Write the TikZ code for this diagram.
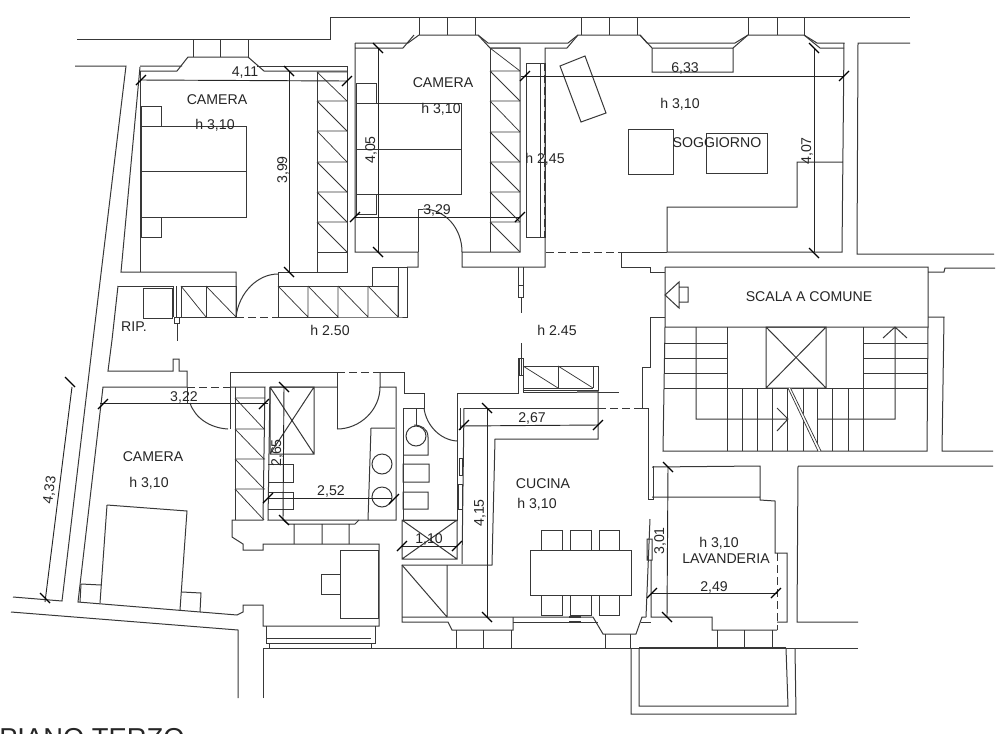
\documentclass[tikz,border=0pt]{standalone}
\usepackage{fontspec}
\setmainfont{Liberation Sans}
\definecolor{ink}{gray}{0.22}
\tikzset{
  wall/.style={draw=ink,line width=0.75pt,line cap=butt,line join=miter},
  fine/.style={draw=ink,line width=0.55pt},
  dimline/.style={draw=black!85,line width=0.7pt},
  tick/.style={draw=black,line width=0.85pt},
  dashwall/.style={draw=ink,line width=0.75pt,dash pattern=on 6pt off 3pt},
  lab/.style={inner sep=0pt,text=black!85,font=\fontsize{10.6}{13}\selectfont},
}
\newcommand{\tkA}[2]{\draw[tick] (#1-5,#2+5) -- (#1+5,#2-5);}
\newcommand{\tkB}[2]{\draw[tick] (#1-5,#2-5) -- (#1+5,#2+5);}
\begin{document}
\begin{tikzpicture}[x=0.75pt,y=-0.75pt]
\useasboundingbox (0,0) rectangle (1000,733);
\fill[white] (0,0) rectangle (1000,733);
% --- outer top wall and windows
\draw[wall] (77,39) -- (330,39) -- (330,17) -- (910,17);
\draw[wall] (75,66) -- (126,66) -- (93,340) -- (62,601) -- (13,597);
\draw[wall] (11,612) -- (238,630) -- (238,698);
\draw[wall] (263,698) -- (263,648) -- (858,648);
\foreach \a/\b/\c in {419/447/475,581/609/637,748/777/804}{
  \draw[wall] (\a,17) -- (\a,35) (\b,17) -- (\b,35) (\c,17) -- (\c,35);}
\draw[wall] (193,39) -- (193,57) (220,39) -- (220,57) (248,39) -- (248,57);
% --- camera 1
\draw[wall] (140,66) -- (182,66) (140,71) -- (177,71) -- (188,57) -- (248,57) -- (264,71) -- (347,71);
\draw[wall] (257,66) -- (347,66) -- (347,272) -- (278,272);
\draw[wall] (140,67) -- (121,272) -- (236,272) -- (236,317);
\draw[wall] (140.7,71) -- (140.7,272);
\draw[wall] (317,72) -- (317,272);
\foreach \y/\z in {72/101,101/131,131/162,162/192,192/222,222/252}{
  \draw[fine] (317,\y) -- (347,\y) (317,\y) -- (347,\z);}
\draw[fine] (317,252) -- (347,252);
\draw[wall] (141,126) rectangle (246,217) (141,171) -- (246,171);
\draw[wall] (141,106) rectangle (161,126) (141,217) rectangle (161,237);
% door camera 1
\draw[wall] (236,317) .. controls (239,292) and (258,274) .. (278,274);
\draw[wall] (278,272) -- (278,317);
\draw[dashwall] (236,317) -- (278,317);
\draw[wall] (278,286) -- (398,286) (278,317) -- (398,317) -- (407,317) -- (407,267) -- (398,267) -- (398,317);
\draw[wall] (372,286) -- (372,267) -- (398,267);
\foreach \a/\b in {278/308,308/338,338/368,368/398}{\draw[fine] (\b,286) -- (\b,317) (\a,286) -- (\b,317);}
% rip
\draw[wall] (181,286) rectangle (236,317) (206,286) -- (206,317);
\draw[fine] (181,286) -- (206,317) (206,286) -- (236,317);
\draw[wall] (118,286) -- (173,286) -- (173,317) (176,286) -- (176,317) -- (181,317);
\draw[wall] (118,286) -- (112,340) -- (108,371) -- (173,371) -- (173,359) -- (179,359) -- (179,371) -- (187,371) -- (187,387);
\draw[wall] (143,288) rectangle (172,318);
\draw[wall] (174,317) rectangle (179,323);
\draw[wall] (177,323) -- (177,341);
% --- camera 2
\draw[wall] (355,43) -- (408,43) -- (419,35) -- (478,35) -- (488,43) -- (568,43) -- (578,35) -- (640,35) -- (647,43) -- (735,43) -- (748,35) -- (804,35) -- (817,43) -- (844,43) -- (842,252) -- (667,252) -- (667,207) -- (797,207) -- (797,162) -- (842,162);
\draw[wall] (355,48) -- (403,48) -- (414,35) (355,43) -- (355,252) -- (418,252) -- (418,267) -- (407,267);
\draw[wall] (478,35) -- (490,48) -- (520,48) -- (520,252) -- (462,252) -- (462,267) -- (545,267) -- (545,48) -- (567,48) -- (578,35);
\draw[wall] (490,48) -- (490,252);
\foreach \y/\z in {48/71,71/101,101/132,132/162,162/192,192/222,222/252}{
  \draw[fine] (490,\y) -- (520,\y) (490,\y) -- (520,\z);}
\draw[wall] (418,252) -- (418,209) -- (423,209);
\draw[wall] (423,209) .. controls (445,209) and (462,228) .. (462,252);
\draw[wall] (356,103) rectangle (461,194) (356,149) -- (461,149);
\draw[wall] (356,83) rectangle (376,103) (356,194) rectangle (376,214);
\draw[wall] (526,63) rectangle (545,237) (540,63) -- (540,237);
\draw[dashwall,line width=0.6pt] (544,63) -- (544,237);
\draw[wall] (518,267) -- (518,297) -- (523,297) -- (523,267) (518,285) -- (523,285) (521,297) -- (521,313);
% --- soggiorno
\draw[wall] (640,35) -- (652,48) -- (733,48) -- (748,35) (652,48) -- (652,72) -- (733,72) -- (733,48);
\draw[wall] (804,35) -- (820,48) -- (844,48);
\draw[wall] (560,66) -- (585,56) -- (606,113) -- (581,122) -- cycle;
\draw[wall] (628,129) rectangle (673,174) (706,133) rectangle (767,173);
\draw[dashwall] (546,252) -- (622,252);
\draw[wall] (622,252) -- (667,252);
\draw[wall] (621,252) -- (621,267) -- (650,267) -- (650,272) -- (665,272);
\draw[wall] (910,43) -- (858,43) -- (857,254) -- (994,254);
\draw[wall] (665,267) -- (928,267) -- (928,327) (928,272) -- (944,272) -- (945,268) -- (995,268);
\draw[wall] (928,317) -- (944,317) -- (942,451) -- (993,451);
% --- scala
\draw[wall] (665,267) -- (665,327) -- (663,451) -- (927,451) -- (928,327) -- (665,327);
\draw[wall] (665,295) -- (679,282) -- (679,308) -- cycle (679,287) rectangle (688,302);
\foreach \y in {343,358,373}{\draw[fine] (665,\y) -- (727,\y) (863,\y) -- (928,\y);}
\draw[wall] (664,388) -- (928,388);
\draw[wall] (696,327) -- (696,419) -- (788,419) (777,408) -- (788,419) -- (777,431);
\draw[wall] (818,419) -- (895,419) -- (895,327) (883,338) -- (895,327) -- (907,338);
\draw[wall] (727,327) -- (727,451) (863,327) -- (863,451);
\foreach \x in {742,757,772,787,803,817,832,848}{\draw[fine] (\x,388) -- (\x,451);}
\draw[wall] (766,327) rectangle (826,388) (766,327) -- (826,388) (766,388) -- (826,327);
\fill[white] (788,388) -- (791,388) -- (821,451) -- (818,451) -- cycle;
\draw[fine] (788,388) -- (818,451) (790.5,388) -- (821,451);
\draw[wall] (665,317) -- (650,317) -- (650,367) -- (642,367) -- (642,408) -- (648,408) -- (648,499) -- (653,499) -- (653,466);
\draw[dashwall] (598,408) -- (642,408);
% --- lavanderia
\draw[wall] (652,467) -- (760,466) -- (760,497) -- (652,497) (760,497) -- (760,500) -- (775,501) -- (775,553) -- (787,553) -- (787,622) -- (777,622);
\draw[dashwall] (777,553) -- (777,630);
\draw[wall] (798,466) -- (993,466) (798,466) -- (797,622) -- (858,622);
\draw[wall] (650,519) -- (646,617) (647,539) rectangle (652,560) (651,560) -- (651,617) -- (712,617) -- (712,630) -- (777,630);
\draw[wall] (717,630) -- (717,648) (744,630) -- (744,648) (772,630) -- (772,648);
\draw[wall] (631,648) -- (631,714) -- (796,714) -- (795,648) (639,648) -- (639,706) -- (788,706) -- (786,648);
\draw[wall,line width=1pt] (639,648) -- (786,648);
% --- cucina
\draw[wall] (457,440) -- (457,393) -- (518,393) -- (518,358);
\draw[wall] (519,358) rectangle (523,375) (521,343) -- (521,358) (521,375) -- (521,358);
\draw[wall] (523,366) rectangle (598,390) (558,366) -- (558,388) (593,366) -- (593,388) (523,388) -- (593,388);
\draw[fine] (523,366) -- (558,388) (558,366) -- (593,388);
\draw[wall] (523,375) -- (523,393) (523,392) -- (619,392);
\draw[wall,line width=1.2pt,draw=black!55] (577,392) -- (598,392);
\draw[wall] (598,390) -- (598,439) -- (495,439) -- (492,565) -- (402,565) -- (402,622) -- (448,622) -- (452,630) -- (513,630) -- (513,617);
\draw[wall] (464,408) -- (598,408);
\draw[wall] (464,408) -- (462,564);
\draw[wall] (402,617) -- (513,617) -- (593,617) -- (603,634) -- (636,634) -- (642,617) -- (646,617);
\draw[wall] (513,622) -- (598,622) (641,622) -- (651,622);
\draw[wall,line width=1pt] (569,617) -- (581,617) (569,622) -- (581,622);
\draw[wall] (447,565) -- (447,617) (402,565) -- (447,617);
\draw[wall] (456,630) -- (456,648) (483,630) -- (483,648) (511,630) -- (511,648) (605,634) -- (605,648) (630,634) -- (630,648);
\draw[wall] (530,550) rectangle (631,595);
\foreach \a/\b in {541/562,570/591,599/619}{\draw[wall] (\a,530) rectangle (\b,550) (\a,595) rectangle (\b,615);}
\draw[fine] (457,408) -- (457,510) (460,408) -- (460,430) (459,458) rectangle (462,475) (458,484) rectangle (462,509);
% --- bagni
\draw[wall] (403,408) -- (403,520) -- (457,520) -- (457,510);
\draw[wall] (380,372) -- (404,372) -- (404,393) -- (424,393) -- (424,408) -- (403,408);
\draw[wall] (424,408) .. controls (426,425) and (440,440) .. (457,441);
\draw[wall] (403,455) -- (428,455) -- (428,437) .. controls (428,428) and (420,425) .. (414,425) (403,464) rectangle (429,482) (403,492) rectangle (428,509);
\draw[wall] (416,408) -- (416,425);
\draw[wall] (416,436) circle (10);
\draw[wall] (402,520) rectangle (457,559) (402,520) -- (457,559) (402,559) -- (457,520);
% camera 3 (basso)
\draw[wall] (187,387) -- (103,387) -- (78,602) -- (237,615) -- (243,612) -- (243,605) -- (263,605) -- (263,626) -- (379,626) -- (379,544) -- (263,544) -- (263,550) -- (243,550) -- (243,544) -- (232,537) -- (232,520) -- (263,520) -- (265,387) -- (230,387);
\draw[dashwall] (187,387) -- (230,387);
\draw[wall] (187,387) -- (187,403);
\draw[wall] (230,429) -- (230,372) -- (337,372) -- (337,429);
\draw[dashwall] (337,372) -- (380,372);
\draw[wall] (190,403) .. controls (195,418) and (210,428) .. (228,429);
\draw[wall] (235,387) -- (235,520);
\foreach \y/\z in {398/429,429/459,459/489,489/520}{\draw[fine] (235,\y) -- (265,\y) (235,\y) -- (264,\z);}
\draw[wall] (107,505) -- (187,511) -- (180,610) (100,603) -- (107,505);
\draw[wall] (81,584) -- (101,585) (81,584) -- (80,602) (182,592) -- (201,593) -- (200,612);
\draw[wall] (340,550) rectangle (378,618) (340,574) -- (321,574) -- (321,594) -- (340,594);
\draw[wall] (266,626) -- (266,643) -- (375,643) -- (375,626) (266,638) -- (371,638) (269,643) -- (269,648) (371,643) -- (371,648);
% bagno grande
\draw[wall] (270,387) -- (337,387) (380,372) -- (380,387) -- (396,387) -- (396,520) -- (268,520) -- (270,387);
\draw[wall] (380,387) .. controls (380,410) and (360,429) .. (337,429);
\draw[wall] (270,387) rectangle (314,454) (270,387) -- (314,454) (270,454) -- (314,387);
\draw[wall] (268,464) -- (293,464) -- (293,482) -- (268,482) (268,492) -- (293,492) -- (293,509) -- (268,509);
\draw[wall] (371,428) -- (395,428) (371,428) -- (368,520);
\draw[wall] (382,464) circle (10) (382,497) circle (10);
\draw[wall] (283,520) -- (288,524) -- (355,524) -- (359,520) (294,524) -- (294,544) (322,524) -- (322,544) (349,524) -- (349,544);
% --- quote
\draw[dimline] (141,80) -- (347,81); \tkA{141}{80}\tkA{347}{81}
\draw[dimline] (289,72) -- (289,272); \tkB{289}{71}\tkB{289}{272}
\draw[dimline] (378,48) -- (378,252); \tkB{378}{48}\tkB{378}{252}
\draw[dimline] (355,217) -- (520,217); \tkA{355}{217}\tkA{520}{217}
\draw[dimline] (521,76) -- (844,76); \tkA{525}{76}\tkA{844}{76}
\draw[dimline] (814,48) -- (814,252); \tkB{814}{48}\tkB{814}{253}
\draw[dimline] (72,387) -- (45,602); \tkB{70}{382}\tkB{45}{598}
\draw[dimline] (100,403) -- (268,403); \tkA{103}{404}\tkA{264}{404}
\draw[dimline] (284,387) -- (283,520); \tkB{284}{387}\tkB{284}{520}
\draw[dimline] (268,498) -- (392,498); \tkA{268}{498}\tkA{394}{499}
\draw[dimline] (460,426) -- (598,425); \tkA{464}{425}\tkA{598}{425}
\draw[dimline] (487,408) -- (487,617); \tkB{487}{408}\tkB{487}{617}
\draw[dimline] (402,546) -- (457,546); \tkA{402}{546}\tkA{457}{546}
\draw[dimline] (668,467) -- (667,617); \tkB{668}{467}\tkB{667}{617}
\draw[dimline] (652,593) -- (777,593); \tkA{652}{593}\tkA{776}{593}
% --- testi
\node[lab] (t1) at (217,100) {CAMERA};
\node[lab] (t2) at (215,125) {h 3,10};
\node[lab] (t3) at (245,73) {4,11};
\node[lab,rotate=90] (t4) at (283,170) {3,99};
\node[lab,rotate=90] (t5) at (371,150) {4,05};
\node[lab] (t6) at (443,83) {CAMERA};
\node[lab] (t7) at (441,109) {h 3,10};
\node[lab] (t8) at (437,210) {3,29};
\node[lab] (t9) at (545,159) {h 2,45};
\node[lab] (t10) at (685,68) {6,33};
\node[lab] (t11) at (680,104) {h 3,10};
\node[lab] (t12) at (717,143) {SOGGIORNO};
\node[lab,rotate=90] (t13) at (807,151) {4,07};
\node[lab] (t14) at (809,297) {SCALA A COMUNE};
\node[lab] (t15) at (134,327) {RIP.};
\node[lab] (t16) at (330,330) {h 2.50};
\node[lab] (t17) at (557,330) {h 2.45};
\node[lab] (t18) at (184,397) {3,22};
\node[lab] (t19) at (153,457) {CAMERA};
\node[lab] (t20) at (149,483) {h 3,10};
\node[lab,rotate=82] (t21) at (50,490) {4,33};
\node[lab,rotate=90] (t22) at (277,453) {2,65};
\node[lab] (t23) at (331,491) {2,52};
\node[lab] (t24) at (532,418) {2,67};
\node[lab] (t25) at (429,539) {1,10};
\node[lab,rotate=90] (t26) at (480,513) {4,15};
\node[lab] (t27) at (543,484) {CUCINA};
\node[lab] (t28) at (537,504) {h 3,10};
\node[lab,rotate=90] (t29) at (660,541) {3,01};
\node[lab] (t30) at (719,543) {h 3,10};
\node[lab] (t31) at (726,559) {LAVANDERIA};
\node[lab] (t32) at (714,587) {2,49};
\begin{scope}
\clip (0,0) rectangle (1000,733);
\node[anchor=base west,inner sep=0pt,text=black!85,font=\fontsize{20.5}{24}\selectfont] (t33) at (-1,747) {PIANO TERZO};
\end{scope}
\end{tikzpicture}
\end{document}
